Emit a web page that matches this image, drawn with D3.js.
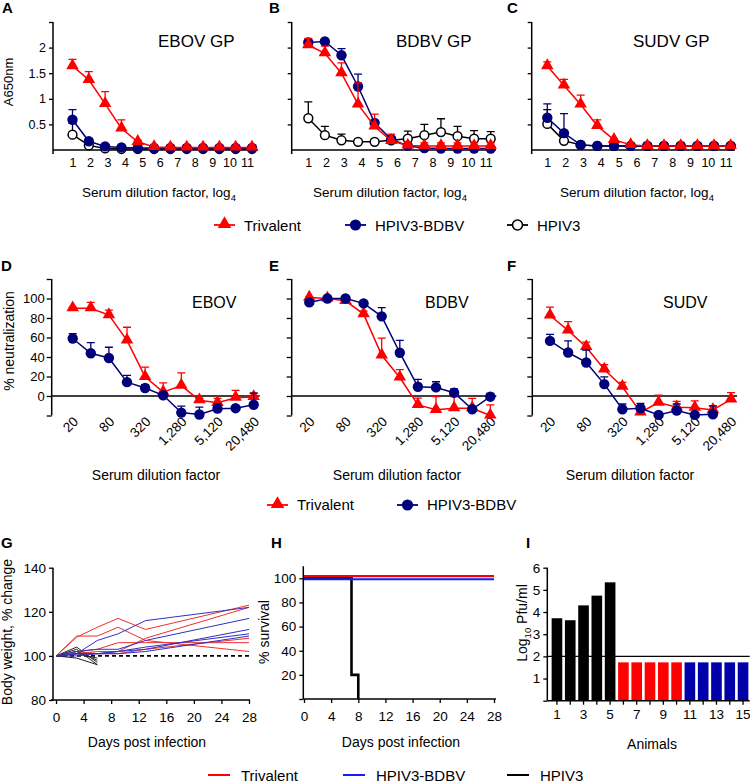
<!DOCTYPE html>
<html>
<head>
<meta charset="utf-8">
<script src="https://cdn.jsdelivr.net/npm/d3@7"></script>
<style>
body { margin: 0; background: #fff; }
svg { display: block; }
</style>
</head>
<body>
<svg id="fig" width="750" height="782"></svg>
<script>
// ---------- data ----------
// ELISA (A-C): 12 plotted dilution steps, axis labelled 1..11
const gpSteps = d3.range(1, 13);
const gpLabels = ['1', '2', '3', '4', '5', '6', '7', '8', '9', '10', '11'];

const ebovGpTri = [1.64, 1.37, 0.90, 0.42, 0.16, 0.06, 0.05, 0.05, 0.05, 0.05, 0.05, 0.05];
const ebovGpTriErr = [0.13, 0.16, 0.24, 0.17, 0.03, 0.01, 0.01, 0.01, 0.01, 0.01, 0.01, 0.01];
const ebovGpBdbv = [0.59, 0.17, 0.07, 0.05, 0.04, 0.04, 0.04, 0.04, 0.04, 0.04, 0.04, 0.04];
const ebovGpBdbvErr = [0.20, 0.03, 0.01, 0.01, 0.01, 0.01, 0.01, 0.01, 0.01, 0.01, 0.01, 0.01];
const ebovGpHpiv3 = [0.30, 0.09, 0.03, 0.02, 0.02, 0.02, 0.02, 0.02, 0.02, 0.02, 0.02, 0.02];
const ebovGpHpiv3Err = [0.22, 0.02, 0, 0, 0, 0, 0, 0, 0, 0, 0, 0];

const bdbvGpTri = [2.05, 1.89, 1.50, 0.89, 0.46, 0.18, 0.09, 0.08, 0.08, 0.08, 0.08, 0.08];
const bdbvGpTriErr = [0.13, 0.14, 0.20, 0.42, 0.24, 0.13, 0.06, 0.06, 0.06, 0.06, 0.06, 0.06];
const bdbvGpBdbv = [2.10, 2.12, 1.85, 1.24, 0.53, 0.21, 0.08, 0.04, 0.03, 0.03, 0.03, 0.03];
const bdbvGpBdbvErr = [0.05, 0.01, 0.13, 0.24, 0.05, 0.05, 0.02, 0.01, 0.01, 0.01, 0.01, 0.01];
const bdbvGpHpiv3 = [0.62, 0.29, 0.19, 0.16, 0.16, 0.19, 0.22, 0.29, 0.35, 0.27, 0.22, 0.22];
const bdbvGpHpiv3Err = [0.32, 0.17, 0.12, 0.03, 0.03, 0.02, 0.15, 0.21, 0.26, 0.19, 0.16, 0.14];

const sudvGpTri = [1.64, 1.26, 0.89, 0.47, 0.20, 0.10, 0.08, 0.08, 0.08, 0.08, 0.08, 0.08];
const sudvGpTriErr = [0.08, 0.12, 0.18, 0.12, 0.02, 0.01, 0.01, 0.01, 0.01, 0.01, 0.01, 0.01];
const sudvGpBdbv = [0.63, 0.33, 0.10, 0.08, 0.08, 0.08, 0.08, 0.08, 0.08, 0.08, 0.08, 0.08];
const sudvGpBdbvErr = [0.27, 0.38, 0.01, 0.01, 0.01, 0.01, 0.01, 0.01, 0.01, 0.01, 0.01, 0.01];
const sudvGpHpiv3 = [0.51, 0.18, 0.10, 0.08, 0.08, 0.08, 0.08, 0.08, 0.08, 0.08, 0.08, 0.08];
const sudvGpHpiv3Err = [0.28, 0.02, 0, 0, 0, 0, 0, 0, 0, 0, 0, 0];

// Neutralization (D-F)
const neutDilutions = [20, 40, 80, 160, 320, 640, 1280, 2560, 5120, 10240, 20480];
const neutTicks = [20, 80, 320, 1280, 5120, 20480];

const ebovNeutTri = [90, 90, 83, 57, 19.6, 4, 10.7, -4.3, -7, -1.8, -1];
const ebovNeutTriErr = [1, 6, 5, 13.5, 10, 9.5, 13, 2, 4.5, 7.5, 4];
const ebovNeutBdbv = [59, 43.8, 39, 14.2, 8.2, 0.7, -17, -19, -13, -12.5, -9];
const ebovNeutBdbvErr = [5, 11, 11, 7, 3.5, 3, 6.7, 7.6, 5, 1, 12];

const bdbvNeutTri = [101, 100, 97.6, 84, 41.7, 19, -9.2, -14.2, -12.5, -12.5, -20];
const bdbvNeutTriErr = [1, 1, 2, 3, 17.6, 8, 7, 13.5, 12, 10, 11];
const bdbvNeutBdbv = [96, 100, 100, 95, 81.7, 44.4, 9.5, 8.8, 3.4, -13.6, -0.7];
const bdbvNeutBdbvErr = [1, 1, 1, 1, 9, 12.6, 7.5, 5.8, 4, 2, 3.4];

const sudvNeutTri = [82.6, 67.3, 50.3, 27.2, 9.5, -16.7, -6.8, -11.6, -12, -14.3, -3.4];
const sudvNeutTriErr = [8.5, 9, 5, 5, 4.4, 6, 7.8, 6, 7, 4, 6.8];
const sudvNeutBdbv = [56.5, 44.6, 34.4, 12.2, -13.6, -12.6, -19.4, -15, -19.4, -18.7, null];
const sudvNeutBdbvErr = [6.8, 12, 12.6, 7.5, 5.4, 5, 1, 6.8, 1, 8.5, null];

// Body weight (G)
const weightDays = [0, 3, 6, 9, 13, 28];
const weightTri = [
  [100, 108.5, 113, 117, 112, 123],
  [100, 109, 109, 113, 107, 102],
  [100, 102, 103, 106, 106, 106],
  [100, 101, 102, 102, 108, 122],
  [100, 102, 101, 101, 103, 108]
];
const weightBdbv = [
  [100, 101, 107, 110, 116, 122],
  [100, 102, 103, 103, 107, 117],
  [100, 101, 101, 102, 103, 112],
  [100, 101, 101, 102, 104, 110],
  [100, 100, 101, 101, 102, 109]
];
const weightHpiv3Days = [0, 3, 6];
const weightHpiv3 = [
  [100, 104, 97],
  [100, 103, 96],
  [100, 102, 98],
  [100, 101, 99],
  [100, 99, 96]
];

// Survival (H)
const survDaysTri = [0, 28], survTri = [100, 100];
const survDaysBdbv = [0, 28], survBdbv = [100, 100];
const survDaysHpiv3 = [0, 7, 8], survHpiv3 = [100, 20, 0];

// Viremia (I)
const animals = d3.range(1, 16);
const animalTicks = [1, 3, 5, 7, 9, 11, 13, 15];
const titers = [3.72, 3.63, 4.3, 4.74, 5.34, 1.73, 1.73, 1.73, 1.73, 1.73, 1.73, 1.73, 1.73, 1.73, 1.73];
const animalGroup = ['HPIV3', 'HPIV3', 'HPIV3', 'HPIV3', 'HPIV3',
  'Trivalent', 'Trivalent', 'Trivalent', 'Trivalent', 'Trivalent',
  'HPIV3-BDBV', 'HPIV3-BDBV', 'HPIV3-BDBV', 'HPIV3-BDBV', 'HPIV3-BDBV'];
const detectionLimit = 2;

// ---------- drawing ----------
const FONT = '"Liberation Sans", Arial, Helvetica, sans-serif';
const RED = '#ff0000', NAVY = '#00007a', BLK = '#000000';
const svg = d3.select('#fig').style('font-family', FONT);

function styleAxis(sel, fs) {
  sel.select('.domain').remove();
  sel.selectAll('line').attr('stroke', BLK).attr('stroke-width', 1.3);
  sel.selectAll('text').attr('font-size', fs).attr('fill', BLK).attr('font-family', FONT);
}

function hline(x1, x2, y, w) {
  svg.append('line').attr('x1', x1).attr('x2', x2).attr('y1', y).attr('y2', y)
    .attr('stroke', BLK).attr('stroke-width', w || 1.4);
}
function vline(x, y1, y2, w) {
  svg.append('line').attr('x1', x).attr('x2', x).attr('y1', y1).attr('y2', y2)
    .attr('stroke', BLK).attr('stroke-width', w || 1.4);
}

function label(x, y, txt, fs, anchor, weight) {
  return svg.append('text').attr('x', x).attr('y', y).attr('font-size', fs)
    .attr('text-anchor', anchor || 'start').attr('font-weight', weight || 'normal').text(txt);
}

function ylabel(x, y, txt, fs) {
  return svg.append('text').attr('transform', `translate(${x},${y}) rotate(-90)`)
    .attr('font-size', fs).attr('text-anchor', 'middle').text(txt);
}

function drawSeries(g, x, y, xs, vals, errs, color, kind) {
  const pts = xs.map((k, i) => ({ k, v: vals[i], e: errs[i] })).filter(d => d.v != null);
  g.append('path').datum(pts)
    .attr('fill', 'none').attr('stroke', color).attr('stroke-width', 1.5)
    .attr('d', d3.line().x(d => x(d.k)).y(d => y(d.v)));
  g.append('g').attr('stroke', color).attr('stroke-width', 1.3).attr('fill', 'none')
    .selectAll('path').data(pts.filter(d => d.e > 0)).join('path')
    .attr('d', d => `M${x(d.k)},${y(d.v)}V${y(d.v + d.e)}M${x(d.k) - 4},${y(d.v + d.e)}H${x(d.k) + 4}`);
  const m = g.append('g');
  if (kind === 'tri') {
    m.selectAll('path').data(pts).join('path')
      .attr('d', d3.symbol(d3.symbolTriangle, 68))
      .attr('transform', d => `translate(${x(d.k)},${y(d.v) - 0.5})`)
      .attr('fill', color);
  } else {
    m.selectAll('circle').data(pts).join('circle')
      .attr('cx', d => x(d.k)).attr('cy', d => y(d.v))
      .attr('r', kind === 'open' ? 4.4 : 5.2)
      .attr('fill', kind === 'open' ? '#fff' : color)
      .attr('stroke', kind === 'open' ? BLK : 'none')
      .attr('stroke-width', 1.5);
  }
}

// ----- A-C: ELISA -----
const elisaPanels = [
  { letter: 'A', lx: 2, left: 53, pad: 19.5, right: 258, title: 'EBOV GP', tx: 158, xl: 159, showY: true,
    tri: ebovGpTri, triE: ebovGpTriErr, bd: ebovGpBdbv, bdE: ebovGpBdbvErr, hp: ebovGpHpiv3, hpE: ebovGpHpiv3Err },
  { letter: 'B', lx: 269, left: 291.7, pad: 16.6, right: 496, title: 'BDBV GP', tx: 396, xl: 390, showY: false,
    tri: bdbvGpTri, triE: bdbvGpTriErr, bd: bdbvGpBdbv, bdE: bdbvGpBdbvErr, hp: bdbvGpHpiv3, hpE: bdbvGpHpiv3Err },
  { letter: 'C', lx: 507, left: 531.7, pad: 15.6, right: 735, title: 'SUDV GP', tx: 633, xl: 637, showY: false,
    tri: sudvGpTri, triE: sudvGpTriErr, bd: sudvGpBdbv, bdE: sudvGpBdbvErr, hp: sudvGpHpiv3, hpE: sudvGpHpiv3Err }
];

elisaPanels.forEach(p => {
  const y = d3.scaleLinear().domain([0, 2.5]).range([150, 22]);
  const x = d3.scalePoint().domain(gpSteps).range([p.left + p.pad, p.left + 199]);
  const xl = d3.scalePoint().domain(gpLabels).range([p.left + p.pad, p.left + 194]);

  const ya = svg.append('g').attr('transform', `translate(${p.left},0)`)
    .call(d3.axisLeft(y).tickValues([0.5, 1, 1.5, 2, 2.5]).tickSize(4).tickPadding(3)
      .tickFormat(d => (p.showY && d < 2.5) ? String(d) : ''));
  styleAxis(ya, 12.5);
  vline(p.left, y(2.5), y(0) + 4, 1.5);

  const xa = svg.append('g').attr('transform', `translate(0,${y(0)})`)
    .call(d3.axisBottom(xl).tickSize(0).tickPadding(8));
  styleAxis(xa, 12.5);
  hline(p.left, p.right, y(0), 1.5);

  const g = svg.append('g');
  drawSeries(g, x, y, gpSteps, p.hp, p.hpE, BLK, 'open');
  drawSeries(g, x, y, gpSteps, p.bd, p.bdE, NAVY, 'dot');
  drawSeries(g, x, y, gpSteps, p.tri, p.triE, RED, 'tri');

  label(p.lx, 13, p.letter, 15, 'start', 'bold');
  label(p.tx, 47, p.title, 17);
  const t = label(p.xl, 197, '', 13.5, 'middle');
  t.append('tspan').text('Serum dilution factor, log');
  t.append('tspan').attr('font-size', 9.5).attr('dy', 4).text('4');
});
ylabel(13, 82, 'A650nm', 13);

// legend row 1
const legend1 = [
  { name: 'Trivalent', color: RED, kind: 'tri', x: 214 },
  { name: 'HPIV3-BDBV', color: NAVY, kind: 'dot', x: 345 },
  { name: 'HPIV3', color: BLK, kind: 'open', x: 507 }
];
function drawLegendMarkers(items, cy, ty) {
  items.forEach(it => {
    svg.append('line').attr('x1', it.x).attr('x2', it.x + 21).attr('y1', cy).attr('y2', cy)
      .attr('stroke', it.color).attr('stroke-width', 1.8);
    if (it.kind === 'tri') {
      svg.append('path').attr('d', d3.symbol(d3.symbolTriangle, 80))
        .attr('transform', `translate(${it.x + 10.5},${cy - 1})`).attr('fill', it.color);
    } else {
      svg.append('circle').attr('cx', it.x + 10.5).attr('cy', cy)
        .attr('r', it.kind === 'open' ? 5 : 5.6)
        .attr('fill', it.kind === 'open' ? '#fff' : it.color)
        .attr('stroke', it.kind === 'open' ? BLK : 'none').attr('stroke-width', 1.6);
    }
    label(it.x + 30, ty, it.name, 15);
  });
}
drawLegendMarkers(legend1, 225, 230.5);

// ----- D-F: neutralization -----
const neutPanels = [
  { letter: 'D', lx: 1, left: 51.7, pad: 21, title: 'EBOV', tx: 192, xlc: 156, showY: true,
    tri: ebovNeutTri, triE: ebovNeutTriErr, bd: ebovNeutBdbv, bdE: ebovNeutBdbvErr },
  { letter: 'E', lx: 269, left: 291.7, pad: 17.6, title: 'BDBV', tx: 425, xlc: 397, showY: false,
    tri: bdbvNeutTri, triE: bdbvNeutTriErr, bd: bdbvNeutBdbv, bdE: bdbvNeutBdbvErr },
  { letter: 'F', lx: 507, left: 532.3, pad: 17.7, title: 'SUDV', tx: 663, xlc: 630, showY: false,
    tri: sudvNeutTri, triE: sudvNeutTriErr, bd: sudvNeutBdbv, bdE: sudvNeutBdbvErr }
];

neutPanels.forEach(p => {
  const y = d3.scaleLinear().domain([-20, 120]).range([415.5, 279]);
  const x = d3.scaleLog().base(2).domain([20, 20480]).range([p.left + p.pad, p.left + p.pad + 181]);

  const ya = svg.append('g').attr('transform', `translate(${p.left},0)`)
    .call(d3.axisLeft(y).tickValues(d3.range(-20, 121, 20)).tickSize(5).tickPadding(2)
      .tickFormat(d => (p.showY && d >= 0 && d <= 100) ? String(d) : ''));
  styleAxis(ya, 13);
  vline(p.left, y(120), y(-20), 1.5);
  hline(p.left, x(20480) + 6, y(0), 1.4);

  svg.append('g').selectAll('text').data(neutTicks).join('text')
    .attr('transform', d => `translate(${x(d) + 3},${419}) rotate(-45)`)
    .attr('text-anchor', 'end').attr('dy', '0.35em').attr('font-size', 13.5)
    .text(d => d3.format(',')(d));

  const g = svg.append('g');
  drawSeries(g, x, y, neutDilutions, p.tri, p.triE, RED, 'tri');
  drawSeries(g, x, y, neutDilutions, p.bd, p.bdE, NAVY, 'dot');

  label(p.lx, 271, p.letter, 15, 'start', 'bold');
  label(p.tx, 308, p.title, 16);
  label(p.xlc, 480, 'Serum dilution factor', 14, 'middle');
});
ylabel(14, 341, '% neutralization', 14);

const legend2 = [
  { name: 'Trivalent', color: RED, kind: 'tri', x: 267 },
  { name: 'HPIV3-BDBV', color: NAVY, kind: 'dot', x: 397 }
];
drawLegendMarkers(legend2, 505, 510);

// ----- G: body weight -----
{
  const x = d3.scaleLinear().domain([0, 28]).range([56, 249]);
  const y = d3.scaleLinear().domain([80, 140]).range([700, 567.7]);
  const ya = svg.append('g').attr('transform', 'translate(53,0)')
    .call(d3.axisLeft(y).tickValues([80, 100, 120, 140]).tickSize(4).tickPadding(3));
  styleAxis(ya, 13.5);
  vline(53, y(140), y(80), 1.5);
  const xa = svg.append('g').attr('transform', `translate(0,${y(80)})`)
    .call(d3.axisBottom(x).tickValues(d3.range(0, 29, 4)).tickSize(4).tickPadding(8));
  styleAxis(xa, 13.5);
  hline(51, 250, y(80), 1.5);

  svg.append('line').attr('x1', x(0)).attr('x2', x(28)).attr('y1', y(100)).attr('y2', y(100))
    .attr('stroke', BLK).attr('stroke-width', 1.6).attr('stroke-dasharray', '4,3');

  const line = (days) => d3.line().x((d, i) => x(days[i])).y(d => y(d));
  const g = svg.append('g').attr('fill', 'none').attr('stroke-width', 1);
  g.selectAll('.hp').data(weightHpiv3).join('path').attr('stroke', '#222').attr('d', line(weightHpiv3Days));
  g.selectAll('.tr').data(weightTri).join('path').attr('stroke', '#ee3030').attr('d', line(weightDays));
  g.selectAll('.bd').data(weightBdbv).join('path').attr('stroke', '#3030c0').attr('d', line(weightDays));

  label(1, 548, 'G', 15, 'start', 'bold');
  ylabel(12, 632, 'Body weight, % change', 14);
  label(147, 747, 'Days post infection', 14, 'middle');
}

// ----- H: survival -----
{
  const x = d3.scaleLinear().domain([0, 28]).range([304, 494]);
  const y = d3.scaleLinear().domain([0, 100]).range([699, 578.3]);
  const ya = svg.append('g').attr('transform', 'translate(303.3,0)')
    .call(d3.axisLeft(y).tickValues(d3.range(0, 101, 20)).tickSize(4).tickPadding(3)
      .tickFormat(d => d === 0 ? '' : String(d)));
  styleAxis(ya, 13.5);
  vline(303.3, y(110), y(0), 1.5);
  const xa = svg.append('g').attr('transform', `translate(0,${y(0)})`)
    .call(d3.axisBottom(x).tickValues(d3.range(0, 29, 4)).tickSize(4).tickPadding(8));
  styleAxis(xa, 13.5);
  hline(303.3, 496, y(0), 1.5);

  const step = (days) => d3.line().x((d, i) => x(days[i])).y(d => y(d)).curve(d3.curveStepAfter);
  svg.append('path').datum(survHpiv3).attr('d', step(survDaysHpiv3))
    .attr('fill', 'none').attr('stroke', BLK).attr('stroke-width', 2.6);
  svg.append('path').datum(survBdbv).attr('d', step(survDaysBdbv)).attr('transform', 'translate(0,0.9)')
    .attr('fill', 'none').attr('stroke', '#1a1aff').attr('stroke-width', 2);
  svg.append('path').datum(survTri).attr('d', step(survDaysTri)).attr('transform', 'translate(0,-2.2)')
    .attr('fill', 'none').attr('stroke', RED).attr('stroke-width', 2.4);

  label(271, 548, 'H', 15, 'start', 'bold');
  ylabel(269, 632, '% survival', 14);
  label(401, 747, 'Days post infection', 14, 'middle');
}

// ----- I: viremia -----
{
  const groupColor = { 'HPIV3': '#000000', 'Trivalent': '#ff0000', 'HPIV3-BDBV': '#0000aa' };
  const x = d3.scaleBand().domain(animals).range([550.3, 749.7]).paddingInner(0.2).paddingOuter(0.1);
  const y = d3.scaleLinear().domain([0, 6]).range([700.7, 567.7]);
  const ya = svg.append('g').attr('transform', 'translate(547.3,0)')
    .call(d3.axisLeft(y).tickValues(d3.range(0, 7)).tickSize(4).tickPadding(3)
      .tickFormat(d => d === 0 ? '' : String(d)));
  styleAxis(ya, 13.5);
  vline(547.3, y(6), y(0), 1.5);

  svg.append('g').selectAll('rect').data(animals).join('rect')
    .attr('x', d => x(d)).attr('width', x.bandwidth())
    .attr('y', (d, i) => y(titers[i])).attr('height', (d, i) => y(0) - y(titers[i]))
    .attr('fill', (d, i) => groupColor[animalGroup[i]]);

  hline(547.3, 749.7, y(detectionLimit), 1.4);

  const xa = svg.append('g').attr('transform', `translate(0,${y(0)})`)
    .call(d3.axisBottom(x).tickSize(4).tickPadding(5)
      .tickFormat(d => animalTicks.includes(d) ? String(d) : ''));
  styleAxis(xa, 13.5);
  hline(547.3, 749.7, y(0), 1.5);

  label(526, 548, 'I', 15, 'start', 'bold');
  const t = svg.append('text').attr('transform', 'translate(527,623) rotate(-90)')
    .attr('font-size', 14).attr('text-anchor', 'middle');
  t.append('tspan').text('Log');
  t.append('tspan').attr('font-size', 9.5).attr('dy', 4).text('10');
  t.append('tspan').attr('dy', -4).text(' Pfu/ml');
  label(652, 749, 'Animals', 14, 'middle');
}

// bottom legend
const legend3 = [
  { name: 'Trivalent', color: RED, x: 208 },
  { name: 'HPIV3-BDBV', color: '#1a1aff', x: 343 },
  { name: 'HPIV3', color: BLK, x: 507 }
];
legend3.forEach(it => {
  svg.append('line').attr('x1', it.x).attr('x2', it.x + 22).attr('y1', 775).attr('y2', 775)
    .attr('stroke', it.color).attr('stroke-width', 2);
  label(it.x + 33, 780.5, it.name, 15);
});
</script>
</body>
</html>
